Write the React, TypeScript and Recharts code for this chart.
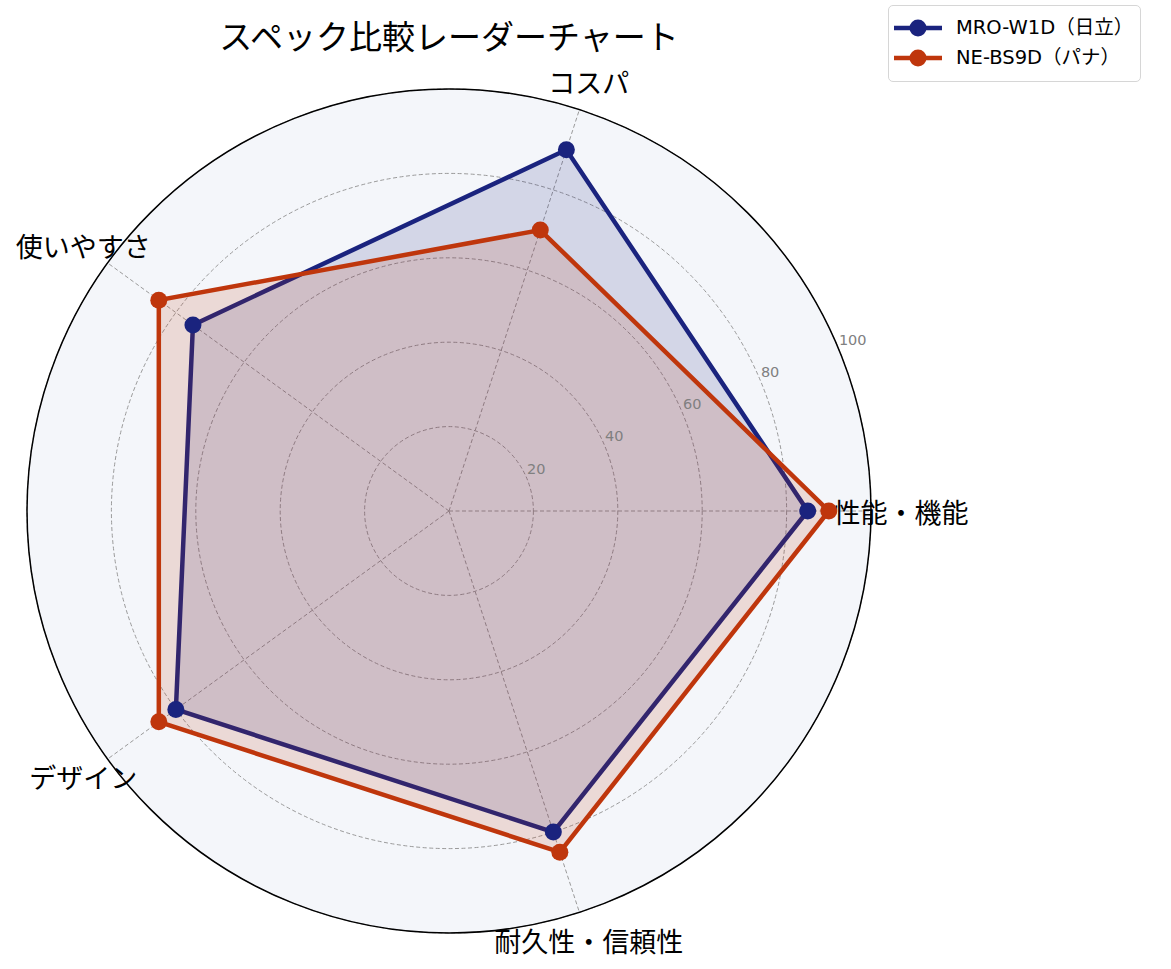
import React from 'react';
import { RadarChart, Radar, PolarGrid, PolarAngleAxis, PolarRadiusAxis, Legend } from 'recharts';

const categories = ['性能・機能', 'コスパ', '使いやすさ', 'デザイン', '耐久性・信頼性'];
const mroValues = [85, 90, 75, 80, 80];
const nebValues = [90, 70, 85, 85, 85];
const seriesNames = ['MRO-W1D（日立）', 'NE-BS9D（パナ）'];
const seriesColors = ['#1a237e', '#bf360c'];
const radiusTicks = [20, 40, 60, 80, 100];
const titleText = 'スペック比較レーダーチャート';

// Categories run counterclockwise from 0°; Recharts lays them out clockwise,
// so the table lists them starting at the first one and then in reverse.
const order = categories.map((_, i) => (i === 0 ? 0 : categories.length - i));
const data = order.map((i) => ({ category: categories[i], mro: mroValues[i], neb: nebValues[i] }));

const W = 1171;
const H = 969;
const CX = 449;
const CY = 511;
const R = 422;
const JP = '"Noto Sans CJK JP", "Noto Sans", sans-serif';
const LEGEND_FONT = '"DejaVu Sans", "Noto Sans CJK JP", sans-serif';

const AngleTick = (props: any) => {
  const { x, y, payload } = props;
  return (
    <text x={x} y={y} textAnchor="middle" dominantBaseline="central" fontFamily={JP} fontSize={27} fill="#000">
      {payload.value}
    </text>
  );
};

const RadiusTick = (props: any) => {
  const { x, y, payload } = props;
  return (
    <text x={x} y={y - 10} textAnchor="start" dominantBaseline="central" fontFamily='"DejaVu Sans", sans-serif' fontSize={14.5} fill="#808080">
      {payload.value}
    </text>
  );
};

const LegendContent = (props: any) => {
  const payload = props.payload || [];
  return (
    <div
      style={{
        width: 251,
        height: 75,
        border: '1px solid #d6d6d6',
        borderRadius: 5,
        background: 'rgba(255,255,255,0.85)',
        boxSizing: 'content-box',
      }}
    >
      {payload.map((entry: any, i: number) => (
        <div key={i} style={{ display: 'flex', alignItems: 'center', height: 30, marginTop: i === 0 ? 7 : 0 }}>
          <svg width={52} height={30} style={{ marginLeft: 3 }}>
            <line x1={2} y1={15} x2={50} y2={15} stroke={entry.color} strokeWidth={4.5} />
            <circle cx={26} cy={15} r={8.5} fill={entry.color} />
          </svg>
          <span style={{ marginLeft: 12, fontFamily: LEGEND_FONT, fontSize: 19.5, color: '#000', lineHeight: '30px', whiteSpace: 'nowrap' }}>
            {entry.value}
          </span>
        </div>
      ))}
    </div>
  );
};

export default function App() {
  return (
    <div style={{ position: 'absolute', left: 0, top: 0, width: W, height: H, background: '#fff' }}>
      <div
        style={{
          position: 'absolute',
          left: CX - R,
          top: CY - R,
          width: 2 * R,
          height: 2 * R,
          borderRadius: '50%',
          background: '#f4f6fa',
        }}
      />
      <div
        style={{
          position: 'absolute',
          left: 0,
          top: 19,
          width: 2 * CX,
          textAlign: 'center',
          fontFamily: JP,
          fontSize: 33,
          lineHeight: '33px',
          color: '#000',
          whiteSpace: 'nowrap',
        }}
      >
        {titleText}
      </div>
      <div style={{ position: 'absolute', left: 0, top: 0 }}>
        <RadarChart
          width={W}
          height={H}
          data={data}
          cx={CX}
          cy={CY}
          outerRadius={R}
          startAngle={0}
          endAngle={-360}
          margin={{ top: 0, right: 0, bottom: 0, left: 0 }}
        >
          <PolarGrid gridType="circle" stroke="#9a9a9a" strokeDasharray="4 2.5" strokeWidth={1} />
          <PolarGrid gridType="circle" radialLines={false} polarRadius={[R]} stroke="#000" strokeWidth={1.5} />
          <PolarAngleAxis dataKey="category" tick={<AngleTick />} tickLine={false} axisLine={false} tickSize={30} />
          <PolarRadiusAxis
            angle={22.5}
            domain={[0, 100]}
            ticks={radiusTicks}
            tick={<RadiusTick />}
            axisLine={false}
            tickLine={false}
          />
          <Radar
            name={seriesNames[0]}
            dataKey="mro"
            stroke={seriesColors[0]}
            strokeWidth={4.5}
            fill={seriesColors[0]}
            fillOpacity={0.15}
            dot={{ r: 8.5, fill: seriesColors[0], fillOpacity: 1, stroke: 'none', strokeWidth: 0 }}
            isAnimationActive={false}
          />
          <Radar
            name={seriesNames[1]}
            dataKey="neb"
            stroke={seriesColors[1]}
            strokeWidth={4.5}
            fill={seriesColors[1]}
            fillOpacity={0.15}
            dot={{ r: 8.5, fill: seriesColors[1], fillOpacity: 1, stroke: 'none', strokeWidth: 0 }}
            isAnimationActive={false}
          />
          <Legend
            content={<LegendContent />}
            wrapperStyle={{ position: 'absolute', left: 888, top: 5, width: 'auto', height: 'auto' }}
          />
        </RadarChart>
      </div>
    </div>
  );
}
